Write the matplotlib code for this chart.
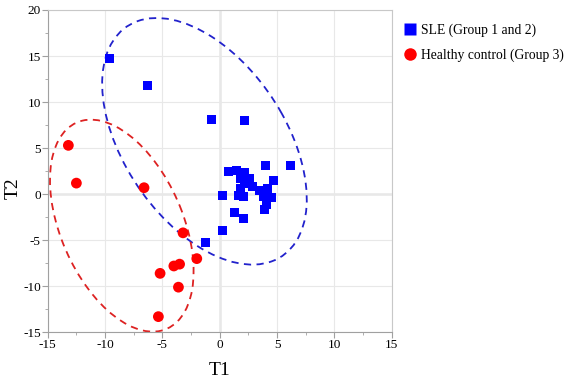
import numpy as np
import matplotlib
matplotlib.use("Agg")
import matplotlib.pyplot as plt
from matplotlib.patches import Ellipse
from matplotlib.ticker import MultipleLocator
from matplotlib.lines import Line2D

plt.rcParams["font.family"] = ["Liberation Serif", "DejaVu Serif"]
plt.rcParams["axes.unicode_minus"] = False

# SLE (Group 1 and 2)
sle_t1 = [-9.6, -6.3, -0.7, 2.2, 6.2,
          0.75, 1.5, 2.2, 4.0, 1.8, 2.6, 4.7, 2.9, 1.8, 2.2, 3.5, 4.2,
          0.2, 1.6, 2.1, 3.8, 4.5, 4.1, 3.9, 1.3, 2.1, 0.2, -1.2]
sle_t2 = [14.7, 11.8, 8.1, 8.0, 3.1,
          2.5, 2.6, 2.4, 3.15, 1.7, 1.7, 1.5, 0.8, 0.6, 1.2, 0.4, 0.6,
          -0.1, -0.1, -0.3, -0.3, -0.4, -1.1, -1.7, -2.0, -2.6, -3.9, -5.2]

# Healthy control (Group 3)
hc_t1 = [-13.2, -12.5, -6.6, -3.2, -2.0, -4.0, -3.5, -5.2, -3.6, -5.35]
hc_t2 = [5.3, 1.2, 0.7, -4.2, -7.0, -7.8, -7.6, -8.6, -10.1, -13.3]

# ellipses: centre, full width, full height, angle (deg)
sle_ell = (-1.33, 5.74, 28.59, 14.77, 114.14)
hc_ell = (-8.54, -3.42, 23.82, 10.93, 106.8)

BLUE = "#0000ff"
RED = "#ff0000"
BLUE_LINE = "#2222cc"
RED_LINE = "#dd2222"

fig = plt.figure(figsize=(5.66, 3.83), dpi=100)
ax = fig.add_axes([0.0843, 0.1324, 0.6078, 0.8415])

ax.set_xlim(-15, 15)
ax.set_ylim(-15, 20)
ax.xaxis.set_major_locator(MultipleLocator(5))
ax.yaxis.set_major_locator(MultipleLocator(5))
ax.xaxis.set_minor_locator(MultipleLocator(2.5))
ax.yaxis.set_minor_locator(MultipleLocator(2.5))
ax.grid(True, which="major", color="#e8e8e8", lw=0.8, zorder=0)
ax.axhline(0, color="#a6a6a6", lw=1.0, zorder=1)
ax.axvline(0, color="#a6a6a6", lw=1.0, zorder=1)

for s in ("top", "right"):
    ax.spines[s].set_color("#c8c8c8")
for s in ("left", "bottom"):
    ax.spines[s].set_color("#a0a0a0")
ax.tick_params(which="both", direction="out", color="#a0a0a0", labelsize=9.5, pad=1)
ax.tick_params(which="major", length=4)
ax.tick_params(which="minor", length=2.5)

for (cx, cy, w, h, a), col in ((sle_ell, BLUE_LINE), (hc_ell, RED_LINE)):
    ax.add_patch(Ellipse((cx, cy), w, h, angle=a, fill=False, ec=col,
                         lw=1.3, ls=(0, (4, 3)), zorder=2))

ax.scatter(sle_t1, sle_t2, marker="s", s=42, c=BLUE, edgecolors="none", zorder=3)
ax.scatter(hc_t1, hc_t2, marker="o", s=60, c=RED, edgecolors="none", zorder=3)

ax.set_xlabel("T1", fontsize=14, labelpad=8)
fig.text(13 / 566, 0.51, "T2", fontsize=14, rotation=90, ha="center", va="center")

handles = [
    Line2D([], [], ls="none", marker="s", ms=8, mfc=BLUE, mec="none"),
    Line2D([], [], ls="none", marker="o", ms=9, mfc=RED, mec="none"),
]
fig.legend(handles, ["SLE (Group 1 and 2)", "Healthy control (Group 3)"],
           loc="upper left", bbox_to_anchor=(0.705, 0.952), frameon=False,
           fontsize=9.8, handlelength=0.8, handletextpad=0.4, labelspacing=0.8,
           borderaxespad=0)

fig.savefig("out.png", dpi=100)
